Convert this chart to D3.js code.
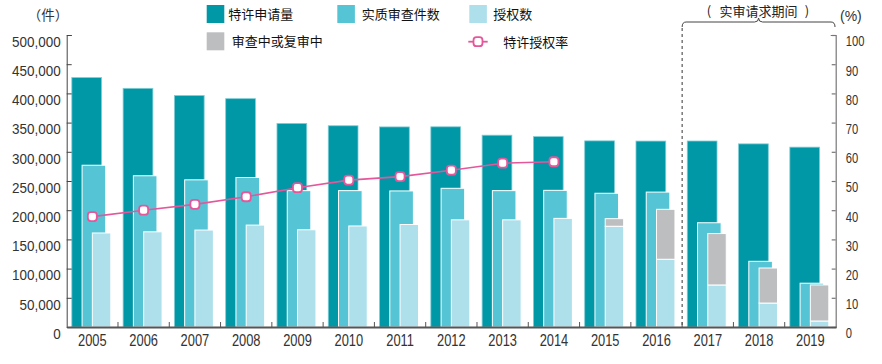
<!DOCTYPE html>
<html><head><meta charset="utf-8">
<script src="https://cdn.jsdelivr.net/npm/d3@7"></script>
<style>
body{margin:0;background:#fff;}
svg{display:block;}
.num{font-family:"Liberation Sans",Arial,sans-serif;fill:#333;}
.cjk{font-family:"Noto Sans CJK SC","Noto Sans",sans-serif;fill:#111;}
</style></head>
<body><svg id="c" width="882" height="364"></svg>
<script>
const categories = ["2005","2006","2007","2008","2009","2010","2011","2012","2013","2014","2015","2016","2017","2018","2019"];
const applications = [427078,408674,396291,391002,348596,344598,342610,342796,328436,325989,318721,318381,318481,313567,307969];
const examined = [277000,259000,252000,256000,233500,233500,233000,237500,233500,234000,229000,231000,178500,112500,75000];
const granted = [161000,163000,166000,174500,166500,173000,175500,183500,183500,186000,172500,116000,72000,41000,10300];
const pending = [0,0,0,0,0,0,0,0,0,0,13000,85500,88000,60000,61700];
const grantRate = [37.8,40.0,42.0,44.6,47.7,50.3,51.5,53.7,56.1,56.6,null,null,null,null,null];
const leftTicks = [0,50000,100000,150000,200000,250000,300000,350000,400000,450000,500000];
const rightTicks = [0,10,20,30,40,50,60,70,80,90,100];
const legendLabels = ["特许申请量","实质审查件数","授权数","审查中或复审中","特许授权率"];
const periodLabel = "实审请求期间";

const C = {dark:"#0097A6", mid:"#55C5D5", light:"#AEE0EC", gray:"#BDBEC0", pink:"#E5579B"};
const svg = d3.select("#c");
const x = d3.scaleBand().domain(categories).range([66.7, 836]).padding(0);
const yL = d3.scaleLinear().domain([0,500000]).range([327,35]);
const yR = d3.scaleLinear().domain([0,100]).range([327,35]);
const bw = x.bandwidth();
const seg = (a,b)=>({x0:a*bw, x1:b*bw});
const pDark = seg(0.10,0.68), pMid = seg(0.30,0.76), pLight = seg(0.50,0.86);

// dashed separator and brace
const xSep = x("2017");
svg.append("line").attr("x1",xSep).attr("x2",xSep).attr("y1",28).attr("y2",327)
  .attr("stroke","#333").attr("stroke-dasharray","3,3").attr("stroke-width",1);
const bL = xSep, bR = 835, bM = (bL+bR)/2;
svg.append("path").attr("d",`M${bL},27 Q${bL},22 ${bL+4},22 H${bM-4} Q${bM},22 ${bM},18 Q${bM},22 ${bM+4},22 H${bR-4} Q${bR},22 ${bR},27`)
  .attr("fill","none").attr("stroke","#444").attr("stroke-width",1);
svg.append("text").attr("class","cjk").attr("x",bM).attr("y",16).attr("text-anchor","middle")
  .attr("font-size",13).style("fill","#222").text(periodLabel);
svg.append("text").attr("class","cjk").attr("x",709).attr("y",15.5).attr("text-anchor","middle")
  .attr("font-size",13).style("fill","#222").text("(");
svg.append("text").attr("class","cjk").attr("x",807).attr("y",15.5).attr("text-anchor","middle")
  .attr("font-size",13).style("fill","#222").text(")");

// bars
const g = svg.append("g");
categories.forEach((c,i)=>{
  const b = x(c);
  g.append("rect").attr("x",b+pDark.x0).attr("width",pDark.x1-pDark.x0)
    .attr("y",yL(applications[i])).attr("height",yL(0)-yL(applications[i]))
    .attr("fill",C.dark).attr("stroke","#7fcdd6").attr("stroke-width",0.8);
  g.append("rect").attr("x",b+pMid.x0).attr("width",pMid.x1-pMid.x0)
    .attr("y",yL(examined[i])).attr("height",yL(0)-yL(examined[i]))
    .attr("fill",C.mid).attr("stroke","#fff").attr("stroke-width",1);
  g.append("rect").attr("x",b+pLight.x0).attr("width",pLight.x1-pLight.x0)
    .attr("y",yL(granted[i])).attr("height",yL(0)-yL(granted[i]))
    .attr("fill",C.light).attr("stroke","#fff").attr("stroke-width",1);
  if(pending[i]>0){
    g.append("rect").attr("x",b+pLight.x0).attr("width",pLight.x1-pLight.x0)
      .attr("y",yL(granted[i]+pending[i])).attr("height",yL(granted[i])-yL(granted[i]+pending[i]))
      .attr("fill",C.gray).attr("stroke","#fff").attr("stroke-width",1);
  }
});

// axes
const sL = 0.88, sR = 0.8, sB = 0.78;
const axL = d3.axisLeft(yL).tickValues(leftTicks).tickFormat(d3.format(",")).tickSizeInner(-5).tickSizeOuter(-5).tickPadding(5.5);
const gL = svg.append("g").attr("transform","translate(66.7,0)").call(axL);
gL.selectAll("path,line").attr("stroke","#444");
gL.selectAll("text").attr("class","num").attr("font-size",15.3)
  .attr("x",-6/sL).attr("y",6.5).attr("transform",`scale(${sL},1)`);

const axR = d3.axisRight(yR).tickValues(rightTicks).tickSizeInner(-4).tickSizeOuter(-5).tickPadding(9.5);
const gR = svg.append("g").attr("transform","translate(835.7,0)").call(axR);
gR.selectAll("path,line").attr("stroke","#777").attr("stroke-width",1.2);
gR.selectAll("text").attr("class","num").attr("font-size",14)
  .attr("x",10/sR).attr("y",6.5).attr("transform",`scale(${sR},1)`);

const axB = d3.axisBottom(x).tickSize(0).tickPadding(7);
const gB = svg.append("g").attr("transform","translate(0,327)").call(axB);
gB.select(".domain").attr("stroke","#555").attr("stroke-width",2);
gB.selectAll("text").attr("class","num").attr("font-size",16.5).attr("transform",`scale(${sB},1)`);
categories.slice(1).forEach(c=>{
  svg.append("line").attr("x1",x(c)).attr("x2",x(c)).attr("y1",327).attr("y2",322)
    .attr("stroke","#555").attr("stroke-width",1);
});

// rate line
const rateData = categories.map((c,i)=>({c,v:grantRate[i]})).filter(d=>d.v!=null);
svg.append("path").datum(rateData)
  .attr("d",d3.line().x(d=>x(d.c)+bw/2).y(d=>yR(d.v)))
  .attr("fill","none").attr("stroke",C.pink).attr("stroke-width",1.6);
svg.selectAll(".mk").data(rateData).enter().append("rect")
  .attr("x",d=>x(d.c)+bw/2-4.5).attr("y",d=>yR(d.v)-4.5).attr("width",9).attr("height",9).attr("rx",3)
  .attr("fill","#fff").attr("stroke",C.pink).attr("stroke-width",1.8);

// unit labels
svg.append("text").attr("class","cjk").attr("x",48).attr("y",20).attr("text-anchor","middle")
  .attr("font-size",13.5).style("fill","#333").text("（件）");
svg.append("text").attr("x",840).attr("y",20.5).attr("font-size",14)
  .style("font-family","'Liberation Sans',Arial,sans-serif").style("fill","#333").text("(%)");

// legend
const lg = svg.append("g");
const sw = [
  {x:206.7,y:5,col:C.dark,t:legendLabels[0],tx:228.3},
  {x:337.3,y:5,col:C.mid,t:legendLabels[1],tx:361.7},
  {x:469.3,y:5,col:C.light,t:legendLabels[2],tx:493.3},
  {x:206.7,y:32.3,col:C.gray,t:legendLabels[3],tx:231.7}
];
sw.forEach(s=>{
  lg.append("rect").attr("x",s.x).attr("y",s.y).attr("width",17.6).attr("height",18).attr("fill",s.col);
  lg.append("text").attr("class","cjk").attr("x",s.tx).attr("y",s.y+13.5).attr("font-size",13).text(s.t);
});
lg.append("line").attr("x1",468.3).attr("x2",487.7).attr("y1",41.7).attr("y2",41.7).attr("stroke",C.pink).attr("stroke-width",1.8);
lg.append("rect").attr("x",478-4.5).attr("y",41.7-4.5).attr("width",9).attr("height",9).attr("rx",3)
  .attr("fill","#fff").attr("stroke",C.pink).attr("stroke-width",1.8);
lg.append("text").attr("class","cjk").attr("x",503.3).attr("y",46.5).attr("font-size",13).text(legendLabels[4]);
</script></body></html>
